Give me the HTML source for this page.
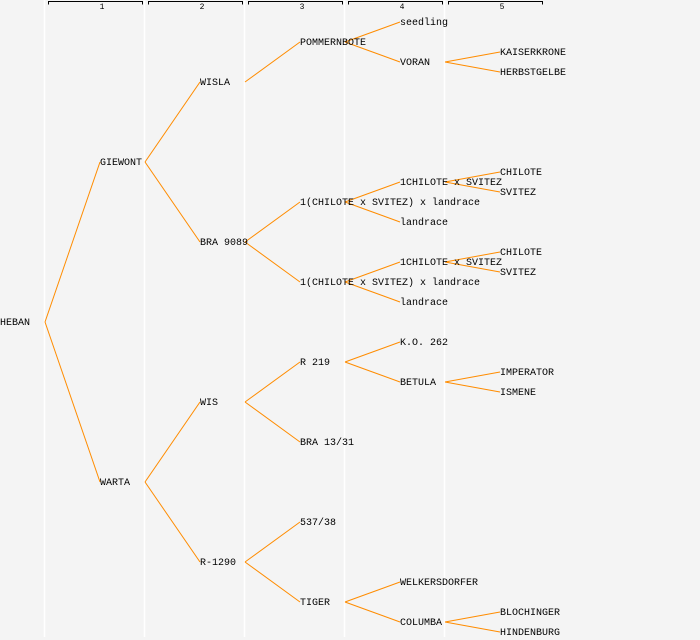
<!DOCTYPE html>
<html><head><meta charset="utf-8"><style>
html,body{margin:0;padding:0;background:#f4f4f4;}
svg{display:block;}
text{font-family:"Liberation Mono",monospace;font-size:10px;fill:#000;dominant-baseline:central;}
.h{font-size:8px;text-anchor:middle;}
line.e{stroke:#ff8c00;stroke-width:1;}
</style></head><body>
<svg width="700" height="640" xmlns="http://www.w3.org/2000/svg">
<rect width="700" height="640" fill="#f4f4f4"/>
<g stroke="#ffffff" stroke-width="1.5">
<line x1="44.5" y1="0" x2="44.5" y2="637"/>
<line x1="144.5" y1="0" x2="144.5" y2="637"/>
<line x1="244.5" y1="0" x2="244.5" y2="637"/>
<line x1="344.5" y1="0" x2="344.5" y2="637"/>
<line x1="444.5" y1="0" x2="444.5" y2="637"/>
</g>
<g stroke="#000" fill="none" stroke-width="1">
<path d="M48.5 4.5V1.5H142.5V4.5"/>
<path d="M148.5 4.5V1.5H242.5V4.5"/>
<path d="M248.5 4.5V1.5H342.5V4.5"/>
<path d="M348.5 4.5V1.5H442.5V4.5"/>
<path d="M448.5 4.5V1.5H542.5V4.5"/>
</g>
<text class="h" x="102" y="7.5">1</text>
<text class="h" x="202" y="7.5">2</text>
<text class="h" x="302" y="7.5">3</text>
<text class="h" x="402" y="7.5">4</text>
<text class="h" x="502" y="7.5">5</text>
<g>
<line class="e" x1="45" y1="322" x2="100" y2="162"/>
<line class="e" x1="45" y1="322" x2="100" y2="482"/>
<line class="e" x1="145" y1="162" x2="200" y2="82"/>
<line class="e" x1="145" y1="162" x2="200" y2="242"/>
<line class="e" x1="145" y1="482" x2="200" y2="402"/>
<line class="e" x1="145" y1="482" x2="200" y2="562"/>
<line class="e" x1="245" y1="82" x2="300" y2="42"/>
<line class="e" x1="245" y1="242" x2="300" y2="202"/>
<line class="e" x1="245" y1="242" x2="300" y2="282"/>
<line class="e" x1="245" y1="402" x2="300" y2="362"/>
<line class="e" x1="245" y1="402" x2="300" y2="442"/>
<line class="e" x1="245" y1="562" x2="300" y2="522"/>
<line class="e" x1="245" y1="562" x2="300" y2="602"/>
<line class="e" x1="345" y1="42" x2="400" y2="22"/>
<line class="e" x1="345" y1="42" x2="400" y2="62"/>
<line class="e" x1="345" y1="202" x2="400" y2="182"/>
<line class="e" x1="345" y1="202" x2="400" y2="222"/>
<line class="e" x1="345" y1="282" x2="400" y2="262"/>
<line class="e" x1="345" y1="282" x2="400" y2="302"/>
<line class="e" x1="345" y1="362" x2="400" y2="342"/>
<line class="e" x1="345" y1="362" x2="400" y2="382"/>
<line class="e" x1="345" y1="602" x2="400" y2="582"/>
<line class="e" x1="345" y1="602" x2="400" y2="622"/>
<line class="e" x1="445" y1="62" x2="500" y2="52"/>
<line class="e" x1="445" y1="62" x2="500" y2="72"/>
<line class="e" x1="445" y1="182" x2="500" y2="172"/>
<line class="e" x1="445" y1="182" x2="500" y2="192"/>
<line class="e" x1="445" y1="262" x2="500" y2="252"/>
<line class="e" x1="445" y1="262" x2="500" y2="272"/>
<line class="e" x1="445" y1="382" x2="500" y2="372"/>
<line class="e" x1="445" y1="382" x2="500" y2="392"/>
<line class="e" x1="445" y1="622" x2="500" y2="612"/>
<line class="e" x1="445" y1="622" x2="500" y2="632"/>
</g>
<g transform="translate(0,1.5)">
<text x="0" y="322">HEBAN</text>
<text x="100" y="162">GIEWONT</text>
<text x="100" y="482">WARTA</text>
<text x="200" y="82">WISLA</text>
<text x="200" y="242">BRA 9089</text>
<text x="200" y="402">WIS</text>
<text x="200" y="562">R-1290</text>
<text x="300" y="42">POMMERNBOTE</text>
<text x="300" y="202">1(CHILOTE x SVITEZ) x landrace</text>
<text x="300" y="282">1(CHILOTE x SVITEZ) x landrace</text>
<text x="300" y="362">R 219</text>
<text x="300" y="442">BRA 13/31</text>
<text x="300" y="522">537/38</text>
<text x="300" y="602">TIGER</text>
<text x="400" y="22">seedling</text>
<text x="400" y="62">VORAN</text>
<text x="400" y="182">1CHILOTE x SVITEZ</text>
<text x="400" y="222">landrace</text>
<text x="400" y="262">1CHILOTE x SVITEZ</text>
<text x="400" y="302">landrace</text>
<text x="400" y="342">K.O. 262</text>
<text x="400" y="382">BETULA</text>
<text x="400" y="582">WELKERSDORFER</text>
<text x="400" y="622">COLUMBA</text>
<text x="500" y="52">KAISERKRONE</text>
<text x="500" y="72">HERBSTGELBE</text>
<text x="500" y="172">CHILOTE</text>
<text x="500" y="192">SVITEZ</text>
<text x="500" y="252">CHILOTE</text>
<text x="500" y="272">SVITEZ</text>
<text x="500" y="372">IMPERATOR</text>
<text x="500" y="392">ISMENE</text>
<text x="500" y="612">BLOCHINGER</text>
<text x="500" y="632">HINDENBURG</text>
</g>
</svg>
</body></html>
